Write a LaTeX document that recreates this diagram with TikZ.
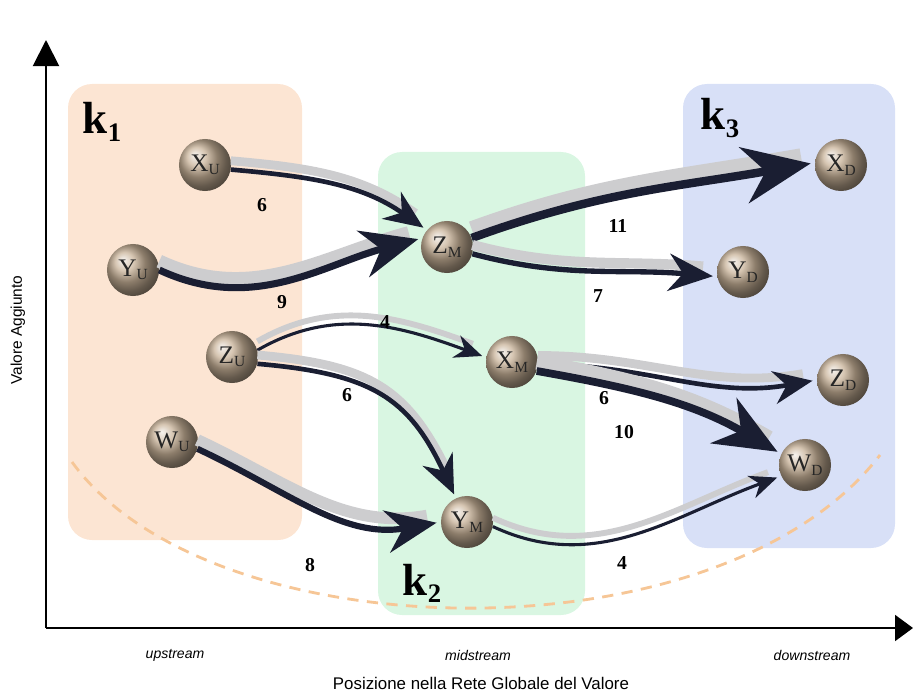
\documentclass[tikz,border=0pt]{standalone}
\usepackage{fontspec}
\setmainfont{Liberation Serif}
\newfontfamily\axisfont{Liberation Sans}
\usetikzlibrary{arrows.meta,positioning}

\definecolor{upcol}{RGB}{252,229,211}
\definecolor{midcol}{RGB}{217,246,226}
\definecolor{downcol}{RGB}{216,224,247}
\definecolor{ink}{RGB}{26,30,50}
\definecolor{haze}{RGB}{205,205,207}
\definecolor{curvecol}{RGB}{246,198,150}
\definecolor{ballcol}{RGB}{200,178,152}

\newcommand{\firm}[2]{#1\raisebox{-0.3ex}{\fontsize{11}{11}\selectfont #2}}
\newcommand{\klab}[1]{\textbf{k\raisebox{-0.35ex}{\fontsize{19}{19}\selectfont #1}}}

\tikzset{
  region/.style={rounded corners=0.6cm, draw=none},
  firmball/.style={circle, inner sep=0pt, minimum size=1.3cm,
    shading=ball, ball color=ballcol, text=black!85,
    font=\fontsize{18}{18}\selectfont},
  flow/.style={draw=ink, line width=#1,
    -{Stealth[length=3pt 7.5, width=3pt 6.2]}, shorten >=3pt,
    preaction={draw=haze, line width=1.9*#1, arrows=-, shorten >=10pt,
      transform canvas={yshift=2.2mm}}},
  wgt/.style={font=\fontsize{14}{14}\selectfont\bfseries},
  klabel/.style={font=\fontsize{32}{32}\selectfont},
  tick/.style={font=\axisfont\itshape\fontsize{10}{10}\selectfont}
}

\begin{document}
\begin{tikzpicture}[x=0.025cm, y=0.025cm]
  \useasboundingbox (0,0) rectangle (913,693);

  % cluster boxes
  \fill[upcol, region] (68,153) rectangle (302,609);
  \fill[midcol, region] (378,78) rectangle (585,541);
  \fill[downcol, region] (683,145) rectangle (895,609);
  \node[klabel] (k1) at (102,571) {\klab{1}};
  \node[klabel] (k2) at (422,110) {\klab{2}};
  \node[klabel] (k3) at (720,575) {\klab{3}};

  \draw[curvecol, line width=2pt, dash pattern=on 8pt off 6pt]
    (72,231) .. controls (210,40) and (720,30) .. (880,238);

  % axes
  \coordinate (O) at (46,65);
  \coordinate (ytop) at (46,653);
  \coordinate (xend) at (913,65);
  \draw[line width=1.4pt, -{Triangle[length=0.65cm, width=0.65cm]}] (O) -- (ytop);
  \draw[line width=1.4pt, -{Triangle[length=0.45cm, width=0.65cm]}] (O) -- (xend);
  \node[rotate=90, font=\axisfont\fontsize{11}{11}\selectfont] (ylab) at (18,363) {Valore Aggiunto};
  \node[tick] (up) at (175,38) {upstream};
  \node[tick] (mid) at (478,38) {midstream};
  \node[tick] (down) at (812,38) {downstream};
  \node[font=\axisfont\fontsize{12}{12}\selectfont] (xlab) at (481,10) {Posizione nella Rete Globale del Valore};

  % firms
  \node[firmball] (XU) at (205,528) {\firm{X}{U}};
  \node[firmball] (YU) at (133,423) {\firm{Y}{U}};
  \node[firmball] (ZU) at (232,336) {\firm{Z}{U}};
  \node[firmball] (WU) at (172,251) {\firm{W}{U}};
  \node[firmball] (ZM) at (447,446) {\firm{Z}{M}};
  \node[firmball] (XM) at (512,331) {\firm{X}{M}};
  \node[firmball] (YM) at (467,171) {\firm{Y}{M}};
  \node[firmball] (XD) at (841,528) {\firm{X}{D}};
  \node[firmball] (YD) at (743,421) {\firm{Y}{D}};
  \node[firmball] (ZD) at (843,313) {\firm{Z}{D}};
  \node[firmball] (WD) at (805,228) {\firm{W}{D}};

  % flows
  \draw[flow=3.3pt] (XU.-10) to[out=-5, in=145] (ZM.140);
  \draw[flow=5pt] (YU.east) to[out=-25, in=195] (ZM.160);
  \draw[flow=2.2pt] (ZU.15) to[out=30, in=160] (XM.170);
  \draw[flow=3.3pt] (ZU.-15) to[out=-5, in=115, looseness=1.2] (YM.115);
  \draw[flow=4.4pt] (WU.-15) to[out=-25, in=190] (YM.180);
  \draw[flow=6pt] (ZM.20) to[out=20, in=190] (XD.175);
  \draw[flow=3.8pt] (ZM.-15) to[out=-15, in=175] (YD.190);
  \draw[flow=3.3pt] (XM.-5) to[out=0, in=190] (ZD.180);
  \draw[flow=5.5pt] (XM.-20) to[out=-10, in=150] (WD.155);
  \draw[flow=2.2pt] (YM.-10) to[out=-25, in=200] (WD.205);

  \node[wgt] (w1) at (262,488) {6};
  \node[wgt] (w2) at (282,391) {9};
  \node[wgt] (w3) at (385,371) {4};
  \node[wgt] (w4) at (347,298) {6};
  \node[wgt] (w5) at (310,128) {8};
  \node[wgt] (w6) at (618,467) {11};
  \node[wgt] (w7) at (598,397) {7};
  \node[wgt] (w8) at (604,295) {6};
  \node[wgt] (w9) at (624,261) {10};
  \node[wgt] (w10) at (622,130) {4};
\end{tikzpicture}
\end{document}
